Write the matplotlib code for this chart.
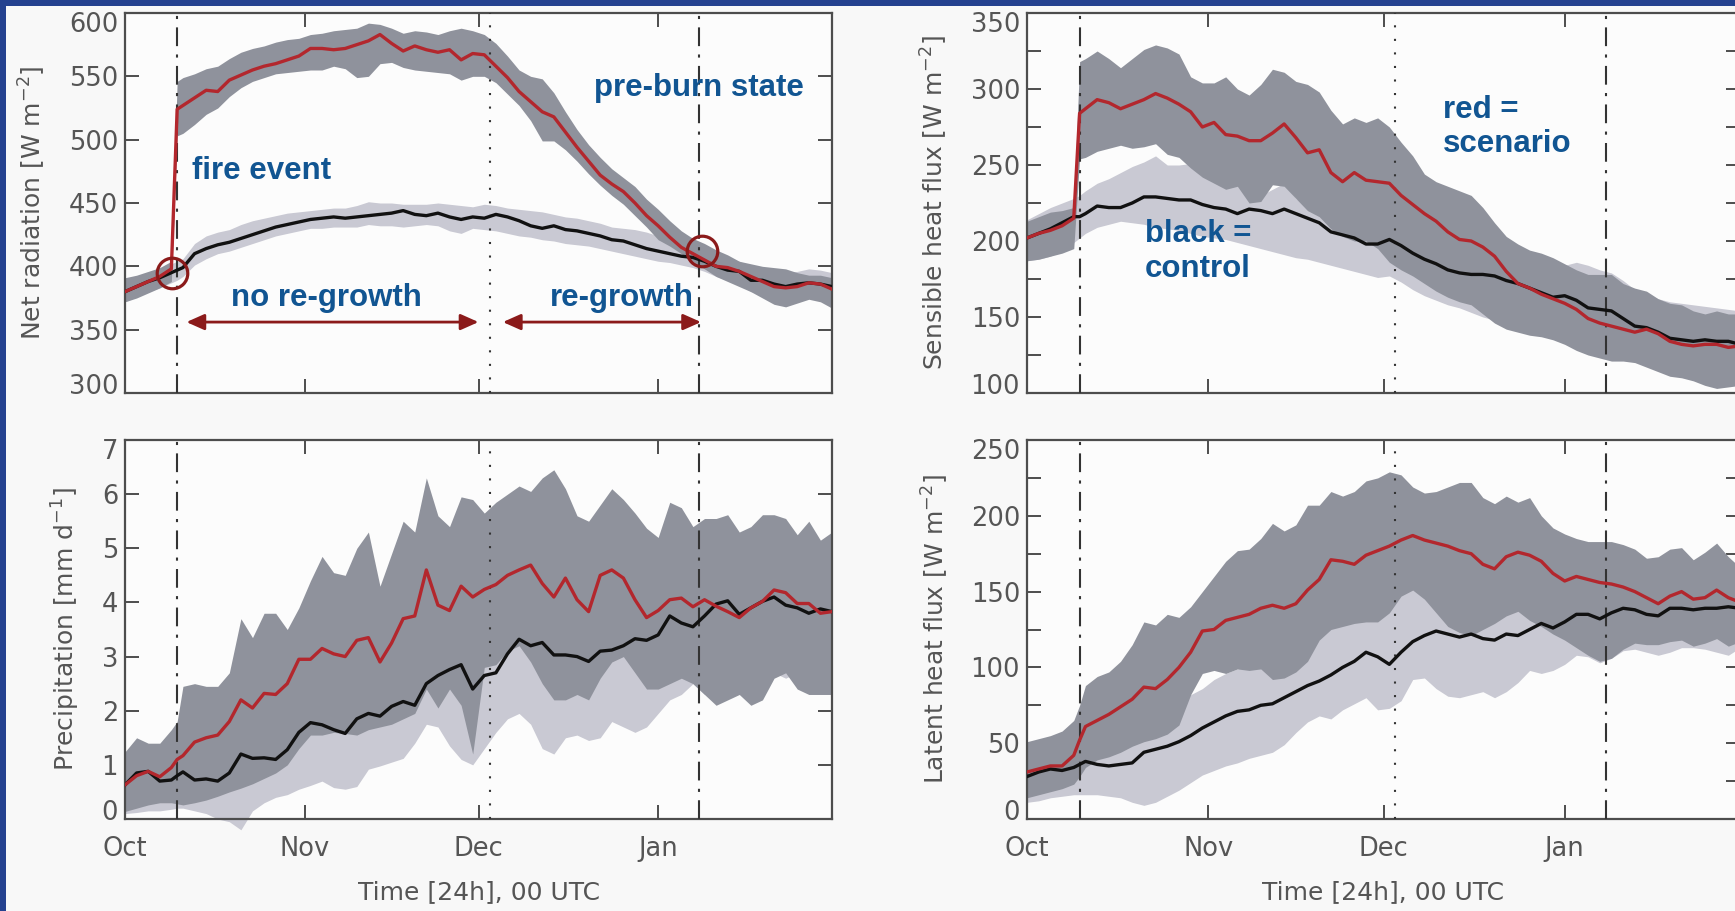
import matplotlib
matplotlib.use("Agg")
import numpy as np
import matplotlib.pyplot as plt
import matplotlib.transforms as mtransforms
from matplotlib.patches import Rectangle
from matplotlib.ticker import MultipleLocator

# ---------------------------------------------------------------- data
# days since 1 October
DAYS = [0, 2, 4, 6, 8, 9, 10, 12, 14, 16, 18, 20, 22, 24, 26, 28, 30, 32, 34, 36,
        38, 40, 42, 44, 46, 48, 50, 52, 54, 56, 58, 60, 62, 64, 66, 68, 70, 72,
        74, 76, 78, 80, 82, 84, 86, 88, 90, 92, 94, 96, 98, 100, 102, 104, 106,
        108, 110, 112, 114, 116, 118, 120, 122]

MONTH_TICKS = [0, 31, 61, 92]
MONTH_LABELS = ["Oct", "Nov", "Dec", "Jan"]
FIRE_DAY = 9
REGROWTH_DAY = 63
PREBURN_DAY = 99

# Net radiation [W m-2]
NETRAD_SCEN = [380, 384, 388, 392, 398, 524, 527, 533, 539, 538, 547, 551, 555, 558, 560, 563,
               566, 572, 572, 571, 572, 575, 578, 583, 576, 570, 574, 571, 569, 571, 563, 568,
               567, 558, 549, 538, 530, 522, 518, 506, 494, 483, 472, 465, 459, 450, 440, 432,
               423, 415, 410, 405, 400, 399, 396, 392, 388, 384, 383, 384, 387, 386, 382]
NETRAD_SCEN_HI = [391, 393, 396, 399, 404, 546, 549, 552, 556, 558, 564, 569, 572, 574, 577, 579,
                  580, 583, 584, 586, 587, 588, 592, 591, 588, 584, 586, 585, 583, 586, 588, 586,
                  583, 576, 566, 555, 550, 548, 537, 522, 508, 496, 486, 477, 470, 463, 453, 445,
                  436, 428, 422, 418, 413, 409, 404, 402, 400, 399, 398, 395, 393, 393, 391]
NETRAD_SCEN_LO = [372, 375, 379, 383, 388, 503, 505, 512, 520, 525, 534, 541, 546, 549, 552, 553,
                  554, 555, 555, 558, 556, 549, 550, 560, 561, 557, 555, 554, 553, 552, 547, 550,
                  550, 545, 536, 527, 515, 499, 499, 492, 483, 473, 464, 456, 449, 440, 431, 421,
                  416, 410, 404, 398, 392, 388, 384, 380, 375, 370, 368, 371, 374, 372, 367]
NETRAD_CTRL = [380, 384, 388, 391, 395, 397, 399, 410, 414, 417, 419, 422, 425, 428, 431, 433,
               435, 437, 438, 439, 438, 439, 440, 441, 442, 444, 441, 440, 442, 439, 437, 439,
               438, 441, 439, 436, 432, 430, 432, 429, 428, 426, 424, 421, 420, 417, 414, 412,
               410, 408, 407, 404, 400, 397, 396, 389, 389, 386, 384, 386, 387, 386, 384]
NETRAD_CTRL_HI = [388, 391, 395, 398, 402, 404, 406, 418, 424, 427, 429, 433, 436, 438, 440, 442,
                  443, 444, 445, 446, 446, 448, 451, 450, 450, 449, 449, 449, 450, 449, 448, 447,
                  449, 448, 446, 445, 444, 443, 441, 439, 438, 436, 434, 431, 430, 429, 427, 424,
                  421, 418, 415, 413, 410, 407, 404, 400, 398, 396, 395, 396, 398, 397, 395]
NETRAD_CTRL_LO = [372, 376, 380, 383, 387, 389, 392, 401, 406, 410, 412, 415, 418, 421, 424, 426,
                  428, 430, 430, 431, 431, 431, 433, 432, 432, 431, 432, 433, 432, 428, 426, 430,
                  429, 428, 426, 424, 423, 421, 420, 418, 417, 416, 414, 412, 410, 408, 406, 404,
                  403, 401, 399, 396, 392, 389, 386, 380, 379, 376, 374, 376, 377, 375, 373]

# Sensible heat flux [W m-2]
SENS_SCEN = [202, 205, 207, 210, 215, 284, 287, 293, 291, 287, 290, 293, 297, 294, 290, 285,
             275, 278, 270, 269, 266, 266, 271, 277, 268, 258, 260, 245, 239, 245, 240, 239,
             238, 230, 224, 218, 213, 206, 201, 200, 196, 190, 180, 172, 169, 165, 162, 159,
             155, 149, 146, 144, 142, 140, 142, 139, 134, 132, 131, 132, 132, 130, 131]
SENS_SCEN_HI = [213, 216, 219, 220, 222, 318, 320, 325, 320, 314, 320, 326, 329, 327, 323, 308,
                304, 304, 308, 300, 296, 303, 313, 311, 305, 303, 298, 286, 277, 281, 278, 281,
                275, 265, 256, 244, 239, 236, 233, 230, 222, 212, 203, 198, 194, 192, 189, 185,
                181, 178, 178, 178, 172, 169, 167, 162, 159, 158, 154, 152, 154, 152, 152]
SENS_SCEN_LO = [187, 188, 190, 192, 195, 254, 255, 259, 261, 263, 261, 262, 264, 257, 255, 248,
                242, 238, 234, 236, 225, 226, 237, 236, 228, 220, 216, 208, 203, 200, 200, 195,
                186, 181, 177, 172, 167, 163, 160, 158, 152, 146, 142, 140, 138, 137, 135, 132,
                128, 125, 123, 121, 121, 120, 117, 114, 111, 110, 108, 105, 103, 104, 105]
SENS_CTRL = [202, 205, 208, 212, 216, 216, 218, 223, 222, 222, 225, 229, 229, 228, 227, 227,
             224, 222, 221, 218, 221, 220, 218, 221, 218, 215, 212, 206, 204, 202, 198, 198,
             201, 197, 192, 188, 185, 181, 179, 178, 178, 177, 174, 172, 169, 166, 163, 164,
             161, 156, 155, 154, 149, 144, 143, 140, 136, 135, 134, 135, 134, 134, 132]
SENS_CTRL_HI = [214, 218, 222, 225, 228, 230, 233, 238, 241, 245, 249, 252, 256, 250, 250, 251,
                249, 246, 243, 239, 233, 230, 234, 238, 228, 222, 219, 214, 210, 209, 207, 206,
                205, 202, 197, 193, 190, 188, 184, 183, 182, 181, 180, 180, 180, 181, 182, 184,
                186, 184, 181, 179, 174, 168, 165, 162, 160, 159, 158, 157, 156, 155, 154]
SENS_CTRL_LO = [187, 188, 190, 194, 199, 202, 205, 209, 211, 213, 212, 211, 209, 208, 207, 205,
                203, 202, 201, 199, 197, 195, 193, 191, 189, 188, 186, 184, 182, 180, 178, 176,
                177, 173, 168, 164, 161, 158, 156, 153, 150, 148, 146, 144, 142, 141, 139, 136,
                132, 129, 127, 125, 124, 123, 121, 118, 115, 114, 112, 110, 109, 109, 110]

# Precipitation [mm d-1]
PRECIP_SCEN = [0.63, 0.80, 0.88, 0.78, 0.95, 1.10, 1.17, 1.42, 1.50, 1.55, 1.80, 2.20, 2.05, 2.32,
               2.30, 2.50, 2.95, 2.95, 3.15, 3.05, 3.00, 3.30, 3.35, 2.90, 3.25, 3.70, 3.75, 4.60,
               3.95, 3.85, 4.30, 4.10, 4.24, 4.33, 4.50, 4.60, 4.69, 4.35, 4.10, 4.45, 4.05, 3.83,
               4.50, 4.60, 4.45, 4.05, 3.72, 3.85, 4.05, 4.08, 3.92, 4.05, 3.93, 3.83, 3.72, 3.90,
               4.02, 4.23, 4.18, 3.98, 3.98, 3.80, 3.83]
PRECIP_SCEN_HI = [1.24, 1.50, 1.40, 1.40, 1.65, 1.80, 2.45, 2.50, 2.45, 2.45, 2.70, 3.70, 3.35, 3.80,
                  3.80, 3.50, 3.90, 4.40, 4.85, 4.55, 4.50, 5.00, 5.30, 4.30, 4.90, 5.50, 5.30, 6.30,
                  5.60, 5.40, 5.95, 5.90, 5.65, 5.85, 6.00, 6.15, 6.05, 6.30, 6.45, 6.10, 5.60, 5.50,
                  5.80, 6.10, 5.90, 5.65, 5.37, 5.20, 5.85, 5.75, 5.40, 5.55, 5.55, 5.62, 5.30, 5.40,
                  5.62, 5.62, 5.55, 5.25, 5.50, 5.15, 5.30]
PRECIP_SCEN_LO = [0.14, 0.20, 0.26, 0.30, 0.30, 0.28, 0.26, 0.30, 0.35, 0.42, 0.50, 0.57, 0.65, 0.75,
                  0.85, 1.00, 1.30, 1.55, 1.55, 1.60, 1.58, 1.55, 1.65, 1.70, 1.75, 1.85, 1.95, 2.40,
                  2.05, 2.40, 2.10, 1.20, 2.80, 2.85, 3.10, 3.20, 2.90, 2.50, 2.20, 2.20, 2.30, 2.20,
                  2.60, 2.90, 3.00, 2.70, 2.40, 2.40, 2.50, 2.60, 2.50, 2.30, 2.10, 2.20, 2.30, 2.10,
                  2.20, 2.60, 2.70, 2.40, 2.30, 2.30, 2.30]
PRECIP_CTRL = [0.63, 0.85, 0.88, 0.70, 0.72, 0.80, 0.87, 0.72, 0.74, 0.70, 0.85, 1.20, 1.12, 1.13,
               1.10, 1.28, 1.60, 1.78, 1.74, 1.65, 1.58, 1.85, 1.95, 1.90, 2.08, 2.17, 2.10, 2.50,
               2.65, 2.76, 2.85, 2.40, 2.65, 2.70, 3.05, 3.32, 3.20, 3.26, 3.03, 3.03, 3.00, 2.91,
               3.10, 3.12, 3.20, 3.33, 3.30, 3.40, 3.75, 3.62, 3.55, 3.75, 3.97, 4.03, 3.78, 3.90,
               4.02, 4.10, 3.95, 3.90, 3.80, 3.88, 3.83]
PRECIP_CTRL_HI = [1.10, 1.20, 1.30, 1.20, 1.20, 1.20, 1.30, 1.20, 1.20, 1.20, 1.30, 1.60, 1.60, 1.60,
                  1.60, 1.80, 2.10, 2.30, 2.30, 2.20, 2.10, 2.40, 2.50, 2.50, 2.70, 2.80, 2.70, 3.10,
                  3.30, 3.40, 3.50, 3.00, 3.30, 3.40, 3.60, 3.90, 3.80, 3.90, 3.60, 3.70, 3.60, 3.50,
                  3.70, 3.80, 3.80, 3.90, 3.90, 4.00, 4.40, 4.30, 4.20, 4.40, 4.60, 4.70, 4.40, 4.50,
                  4.60, 4.70, 4.60, 4.50, 4.40, 4.50, 4.40]
PRECIP_CTRL_LO = [0.10, 0.12, 0.15, 0.15, 0.18, 0.20, 0.20, 0.15, 0.10, 0.00, -0.05, -0.20, 0.15, 0.30,
                  0.40, 0.45, 0.55, 0.62, 0.70, 0.58, 0.55, 0.60, 0.92, 0.98, 1.05, 1.12, 1.40, 1.75,
                  1.70, 1.35, 1.10, 1.00, 1.30, 1.60, 1.85, 1.95, 1.75, 1.30, 1.20, 1.50, 1.55, 1.45,
                  1.50, 1.80, 1.70, 1.60, 1.70, 1.95, 2.20, 2.30, 2.50, 2.30, 2.50, 2.60, 2.50, 2.60,
                  2.80, 2.70, 2.60, 2.70, 2.60, 2.60, 2.60]

# Latent heat flux [W m-2]
LATENT_SCEN = [31, 33, 35, 35, 42, 52, 61, 65, 69, 74, 79, 87, 86, 92, 100, 110,
               124, 125, 131, 133, 135, 139, 141, 139, 142, 151, 158, 171, 170, 168, 174, 177,
               180, 184, 187, 184, 182, 180, 177, 175, 168, 165, 173, 176, 174, 170, 162, 157,
               160, 158, 156, 155, 153, 150, 146, 142, 147, 150, 145, 146, 151, 146, 143]
LATENT_SCEN_HI = [51, 53, 55, 58, 65, 75, 88, 94, 97, 104, 115, 130, 128, 135, 133, 140,
                  150, 160, 170, 177, 178, 185, 195, 190, 194, 207, 207, 216, 213, 216, 223, 225,
                  229, 227, 219, 215, 216, 219, 222, 222, 212, 208, 213, 209, 212, 200, 192, 188,
                  185, 183, 183, 183, 181, 178, 172, 173, 178, 179, 171, 176, 182, 173, 166]
LATENT_SCEN_LO = [14, 16, 18, 20, 23, 28, 34, 39, 41, 44, 48, 51, 53, 56, 62, 82,
                  96, 98, 96, 99, 98, 99, 92, 93, 97, 104, 118, 125, 127, 129, 130, 130,
                  136, 147, 151, 145, 136, 127, 123, 121, 125, 129, 134, 137, 131, 127, 122, 118,
                  113, 108, 104, 106, 112, 116, 115, 115, 117, 118, 114, 116, 119, 114, 117]
LATENT_CTRL = [28, 31, 33, 32, 34, 36, 38, 36, 35, 36, 37, 44, 46, 48, 51, 55,
               60, 64, 68, 71, 72, 75, 76, 80, 84, 88, 91, 95, 100, 104, 110, 107,
               102, 110, 117, 121, 124, 122, 120, 122, 119, 118, 122, 121, 125, 129, 126, 130,
               135, 135, 132, 136, 139, 138, 135, 134, 139, 139, 138, 139, 139, 140, 139]
LATENT_CTRL_HI = [45, 47, 50, 50, 50, 52, 55, 55, 56, 57, 60, 66, 70, 74, 78, 82,
                  86, 92, 96, 99, 101, 103, 105, 108, 112, 117, 120, 128, 135, 140, 145, 150,
                  152, 150, 152, 150, 148, 146, 145, 146, 145, 143, 145, 146, 148, 150, 150, 152,
                  157, 155, 154, 157, 158, 157, 155, 155, 158, 159, 158, 158, 159, 160, 159]
LATENT_CTRL_LO = [11, 12, 14, 15, 16, 16, 16, 16, 15, 14, 11, 9, 11, 15, 19, 24,
                  29, 32, 35, 37, 40, 42, 44, 49, 57, 64, 68, 66, 72, 76, 80, 72,
                  73, 78, 92, 93, 86, 81, 80, 82, 84, 80, 84, 90, 98, 96, 98, 102,
                  108, 107, 103, 106, 111, 112, 110, 108, 110, 113, 113, 112, 110, 108, 113]

# ---------------------------------------------------------------- style
FIG_BG = "#f8f8f8"
AX_BG = "#fcfcfc"
FRAME_BLUE = "#24418f"
SCEN_BAND = "#8f929c"
CTRL_BAND = "#c9c9d3"
SCEN_LINE = "#b3272d"
CTRL_LINE = "#111111"
AXIS_GREY = "#4d4d4d"
TEXT_GREY = "#555555"
NOTE_BLUE = "#115592"
MARK_RED = "#8b1a1a"

W, H = 1735, 911
fig = plt.figure(figsize=(W / 100, H / 100), dpi=100, facecolor=FIG_BG)

# blue frame along the top and left edges
fig.patches.append(Rectangle((0, 1 - 6 / H), 1, 6 / H, transform=fig.transFigure,
                             facecolor=FRAME_BLUE, edgecolor="none", zorder=0))
fig.patches.append(Rectangle((0, 0), 6 / W, 1, transform=fig.transFigure,
                             facecolor=FRAME_BLUE, edgecolor="none", zorder=0))


def make_axes(left, top, right, bottom):
    return fig.add_axes([left / W, 1 - bottom / H, (right - left) / W, (bottom - top) / H])


def nudge_end_labels(ax, px=9):
    """Pull the outermost y tick labels slightly inside the frame."""
    lo, hi = ax.get_ylim()
    locs = ax.get_yticks()
    ticks = ax.yaxis.get_major_ticks(len(locs))
    for tick, loc in zip(ticks, locs):
        if np.isclose(loc, hi):
            dy = -px
        elif np.isclose(loc, lo):
            dy = px
        else:
            continue
        shift = mtransforms.ScaledTranslation(0, dy / fig.dpi, fig.dpi_scale_trans)
        tick.label1.set_transform(tick.label1.get_transform() + shift)


def panel(ax, scen, scen_lo, scen_hi, ctrl, ctrl_lo, ctrl_hi, ylim, major, minor,
          ylabel, label_x, show_months, band_clip=True):
    ax.set_facecolor(AX_BG)
    ax.fill_between(DAYS, ctrl_lo, ctrl_hi, color=CTRL_BAND, lw=0, zorder=1,
                    clip_on=band_clip)
    ax.fill_between(DAYS, scen_lo, scen_hi, color=SCEN_BAND, lw=0, zorder=2)
    for day, style in ((FIRE_DAY, (0, (9, 4, 1.5, 4))),
                       (REGROWTH_DAY, (0, (1, 5.5))),
                       (PREBURN_DAY, (0, (9, 4, 1.5, 4)))):
        ax.axvline(day, color="#333333", lw=1.5, linestyle=style, zorder=3)
    ax.plot(DAYS, ctrl, color=CTRL_LINE, lw=2.4, zorder=4)
    ax.plot(DAYS, scen, color=SCEN_LINE, lw=2.4, zorder=5)

    ax.set_xlim(0, 122)
    ax.set_ylim(*ylim)
    ax.set_xticks(MONTH_TICKS)
    ax.set_xticklabels(MONTH_LABELS if show_months else [])
    ax.set_yticks(np.arange(ylim[0], ylim[1] + major / 2, major))
    if minor:
        ax.yaxis.set_minor_locator(MultipleLocator(minor))
    ax.tick_params(which="both", direction="in", length=10, width=1.4, top=True,
                   right=True, color=AXIS_GREY, labelcolor=TEXT_GREY, labelsize=18.5)
    ax.tick_params(axis="x", pad=12)
    ax.tick_params(axis="y", pad=5)
    for sp in ax.spines.values():
        sp.set_color(AXIS_GREY)
        sp.set_linewidth(1.6)

    ax.set_ylabel(ylabel, fontsize=18, color=TEXT_GREY)
    ax.yaxis.label.set_verticalalignment("center")
    ax.yaxis.set_label_coords(label_x, 0.5)
    if show_months:
        ax.set_xlabel("Time [24h], 00 UTC", fontsize=18, color=TEXT_GREY)
        ax.xaxis.label.set_verticalalignment("center")
        ax.xaxis.set_label_coords(0.5, -0.193)
    nudge_end_labels(ax)


ax_rn = make_axes(125, 13, 832, 393)
ax_sh = make_axes(1027, 13, 1740, 393)
ax_pr = make_axes(125, 440, 832, 819)
ax_lh = make_axes(1027, 440, 1740, 819)

panel(ax_rn, NETRAD_SCEN, NETRAD_SCEN_LO, NETRAD_SCEN_HI,
      NETRAD_CTRL, NETRAD_CTRL_LO, NETRAD_CTRL_HI,
      (300, 600), 50, None, r"Net radiation [W m$^{-2}$]", -0.1315, False)
panel(ax_sh, SENS_SCEN, SENS_SCEN_LO, SENS_SCEN_HI,
      SENS_CTRL, SENS_CTRL_LO, SENS_CTRL_HI,
      (100, 350), 50, 25, r"Sensible heat flux [W m$^{-2}$]", -0.1304, False)
panel(ax_pr, PRECIP_SCEN, PRECIP_SCEN_LO, PRECIP_SCEN_HI,
      PRECIP_CTRL, PRECIP_CTRL_LO, PRECIP_CTRL_HI,
      (0, 7), 1, None, r"Precipitation [mm d$^{-1}$]", -0.0835, True, band_clip=False)
panel(ax_lh, LATENT_SCEN, LATENT_SCEN_LO, LATENT_SCEN_HI,
      LATENT_CTRL, LATENT_CTRL_LO, LATENT_CTRL_HI,
      (0, 250), 50, 25, r"Latent heat flux [W m$^{-2}$]", -0.129, True)

# ---------------------------------------------------------------- notes
note = dict(color=NOTE_BLUE, fontsize=22.5, fontweight="bold",
            family=["Liberation Sans", "DejaVu Sans"], zorder=7)

ax_rn.text(23.6, 475, "fire event", ha="center", va="center", **note)
ax_rn.text(99.0, 541, "pre-burn state", ha="center", va="center", **note)
ax_rn.text(34.8, 375, "no re-growth", ha="center", va="center", **note)
ax_rn.text(85.8, 375, "re-growth", ha="center", va="center", **note)
ax_sh.text(71.2, 275, "red =\nscenario", ha="left", va="center", linespacing=1.2, **note)
ax_sh.text(20.2, 193, "black =\ncontrol", ha="left", va="center", linespacing=1.2, **note)

arrow = dict(arrowstyle="<|-|>,head_length=0.9,head_width=0.4", mutation_scale=12,
             color=MARK_RED, lw=2.0, shrinkA=0, shrinkB=0)
ax_rn.annotate("", xy=(61.0, 356), xytext=(10.6, 356), arrowprops=arrow, zorder=7)
ax_rn.annotate("", xy=(99.4, 356), xytext=(65.2, 356), arrowprops=arrow, zorder=7)

# rings marking the fire onset and the return to the pre-burn state
ax_rn.plot([8.1, 99.5], [395, 412], linestyle="none", marker="o", ms=22,
           mfc="none", mec=MARK_RED, mew=2.3, zorder=8)

fig.savefig("out.png", dpi=100, facecolor=FIG_BG)
